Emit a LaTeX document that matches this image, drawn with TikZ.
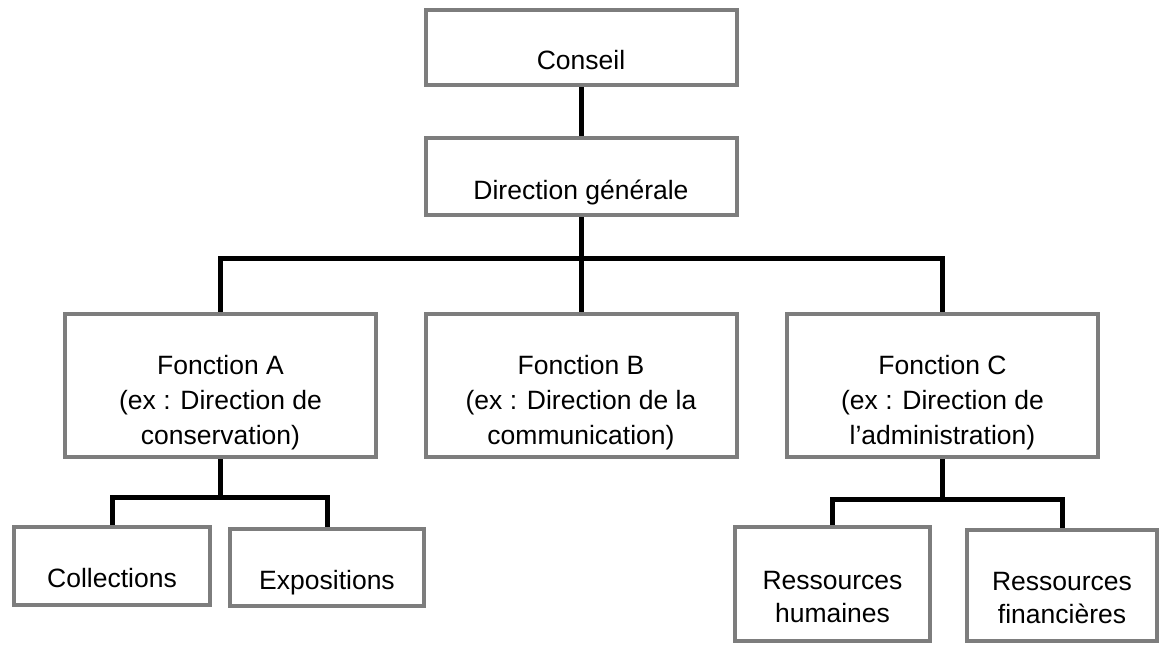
\documentclass[tikz,border=0pt]{standalone}
\usepackage{fontspec}
\setmainfont{Liberation Sans}
\usetikzlibrary{backgrounds}

\definecolor{rahmengrau}{RGB}{125,125,125}
% unsichtbare Stuetze, schiebt den Text im Kasten nach unten
\newcommand{\senk}[1]{\rule{0pt}{#1pt}}

\begin{document}
\begin{tikzpicture}[x=1pt, y=-1pt,
	kasten/.style={draw=rahmengrau, line width=4pt, fill=white, inner sep=0pt,
		align=center, font=\fontsize{26.5}{35}\selectfont},
	linie/.style={line width=5pt, black}]
%\draw [lightgray](0,0) grid (1160,646);
\useasboundingbox (0,0) rectangle (1160,646);

	% Zeichnet Kasten Conseil (oben)
	\node[kasten, minimum width=311, minimum height=75] (conseil) at (581,47.5) {\senk{44}Conseil};

	% Zeichnet Kasten Direction generale
	\node[kasten, minimum width=311, minimum height=77] (direction) at (581,176.5) {\senk{52}Direction générale};

	% Zeichnet die drei Fonction-Kaesten
	\node[kasten, minimum width=311, minimum height=143] (fonctionA) at (220.5,385.5) {\senk{54}Fonction A\\(ex : Direction de\\conservation)};
	\node[kasten, minimum width=311, minimum height=143] (fonctionB) at (581,385.5) {\senk{54}Fonction B\\(ex : Direction de la\\communication)};
	\node[kasten, minimum width=311, minimum height=143] (fonctionC) at (942.5,385.5) {\senk{54}Fonction C\\(ex : Direction de\\l’administration)};

	% Zeichnet Kaesten unter Fonction A
	\node[kasten, minimum width=196, minimum height=78] (collections) at (112,566) {\senk{44}Collections};
	\node[kasten, minimum width=194, minimum height=77] (expositions) at (327,567.5) {\senk{50}Expositions};

	% Zeichnet Kaesten unter Fonction C
	\node[kasten, font=\fontsize{26.5}{33}\selectfont, minimum width=195, minimum height=114] (humaines) at (832.5,584) {\senk{44}Ressources\\humaines};
	\node[kasten, font=\fontsize{26.5}{33}\selectfont, minimum width=190, minimum height=111] (financieres) at (1062,585.5) {\senk{44}Ressources\\financières};

% Verbindungslinien liegen hinter den Kaesten
\begin{scope}[on background layer]
	% Conseil zu Direction generale
	\draw[linie] (conseil.south) -- (direction.south);

	% Verteiler unter Direction generale
	\coordinate (verteiler) at (581,258);
	\draw[linie] (direction.south) -- (verteiler);
	\draw[linie] (fonctionA.north) |- (verteiler) -| (fonctionC.north);
	\draw[linie] (fonctionB.north) -- (verteiler);

	% Verteiler unter Fonction A
	\path (fonctionA.south) ++(0,38) coordinate (verteilerA);
	\draw[linie] (fonctionA.south) -- (verteilerA);
	\draw[linie] (collections.north) |- (verteilerA) -| (expositions.north);

	% Verteiler unter Fonction C
	\path (fonctionC.south) ++(0,40) coordinate (verteilerC);
	\draw[linie] (fonctionC.south) -- (verteilerC);
	\draw[linie] (humaines.north) |- (verteilerC) -| (financieres.north);
\end{scope}

\end{tikzpicture}
\end{document}
